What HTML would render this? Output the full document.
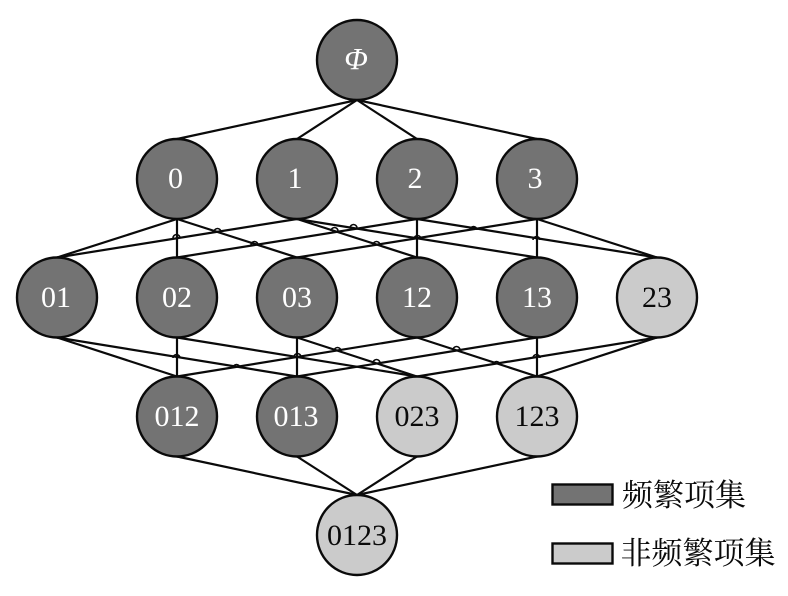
<!DOCTYPE html>
<html>
<head>
<meta charset="utf-8">
<style>
html,body{margin:0;padding:0;background:#fff;}
svg{display:block;}
text{font-family:"Liberation Serif","Noto Serif CJK SC",serif;text-anchor:middle;}
</style>
</head>
<body>
<svg width="788" height="596" viewBox="0 0 788 596" xmlns="http://www.w3.org/2000/svg">
<g stroke="#0a0a0a" stroke-width="2.2" fill="none">
<!-- root to level 1 -->
<line x1="357" y1="100" x2="177" y2="139"/>
<line x1="357" y1="100" x2="297" y2="139"/>
<line x1="357" y1="100" x2="417" y2="139"/>
<line x1="357" y1="100" x2="537" y2="139"/>
<!-- level 1 to level 2 -->
<line x1="177" y1="219" x2="57" y2="257.5"/>
<line x1="177" y1="219" x2="177" y2="257.5"/>
<line x1="177" y1="219" x2="297" y2="257.5"/>
<line x1="297" y1="219" x2="57" y2="257.5"/>
<line x1="297" y1="219" x2="417" y2="257.5"/>
<line x1="297" y1="219" x2="537" y2="257.5"/>
<line x1="417" y1="219" x2="177" y2="257.5"/>
<line x1="417" y1="219" x2="417" y2="257.5"/>
<line x1="417" y1="219" x2="657" y2="257.5"/>
<line x1="537" y1="219" x2="297" y2="257.5"/>
<line x1="537" y1="219" x2="537" y2="257.5"/>
<line x1="537" y1="219" x2="657" y2="257.5"/>
<!-- level 2 to level 3 -->
<line x1="57" y1="337.5" x2="177" y2="376.5"/>
<line x1="57" y1="337.5" x2="297" y2="376.5"/>
<line x1="177" y1="337.5" x2="177" y2="376.5"/>
<line x1="177" y1="337.5" x2="417" y2="376.5"/>
<line x1="297" y1="337.5" x2="297" y2="376.5"/>
<line x1="297" y1="337.5" x2="417" y2="376.5"/>
<line x1="417" y1="337.5" x2="177" y2="376.5"/>
<line x1="417" y1="337.5" x2="537" y2="376.5"/>
<line x1="537" y1="337.5" x2="297" y2="376.5"/>
<line x1="537" y1="337.5" x2="537" y2="376.5"/>
<line x1="657" y1="337.5" x2="417" y2="376.5"/>
<line x1="657" y1="337.5" x2="537" y2="376.5"/>
<!-- level 3 to bottom -->
<line x1="177" y1="456.5" x2="357" y2="495"/>
<line x1="297" y1="456.5" x2="357" y2="495"/>
<line x1="417" y1="456.5" x2="357" y2="495"/>
<line x1="537" y1="456.5" x2="357" y2="495"/>
</g>
<!-- crossing bumps -->
<g stroke="#0a0a0a" stroke-width="1.6" fill="none">
<path d="M173 238a3.5 3.5 0 0 1 7 0"/>
<path d="M214 232a3.5 3.5 0 0 1 7 0"/>
<path d="M251 245a3.5 3.5 0 0 1 7 0"/>
<path d="M331 231a3.5 3.5 0 0 1 7 0"/>
<path d="M350 228a3.5 3.5 0 0 1 7 0"/>
<path d="M373 245a3.5 3.5 0 0 1 7 0"/>
<path d="M414 239a3.5 3.5 0 0 1 7 0"/>
<path d="M470 230a3.5 3.5 0 0 1 7 0"/>
<path d="M533 240a3.5 3.5 0 0 1 7 0"/>
<path d="M173 358a3.5 3.5 0 0 1 7 0"/>
<path d="M233 368a3.5 3.5 0 0 1 7 0"/>
<path d="M294 357a3.5 3.5 0 0 1 7 0"/>
<path d="M334 351a3.5 3.5 0 0 1 7 0"/>
<path d="M373 363a3.5 3.5 0 0 1 7 0"/>
<path d="M453 350a3.5 3.5 0 0 1 7 0"/>
<path d="M493 365a3.5 3.5 0 0 1 7 0"/>
<path d="M533 358a3.5 3.5 0 0 1 7 0"/>
</g>
<!-- dark nodes -->
<g fill="#737373" stroke="#0a0a0a" stroke-width="2.4">
<circle cx="357" cy="60" r="40"/>
<circle cx="177" cy="179" r="40"/>
<circle cx="297" cy="179" r="40"/>
<circle cx="417" cy="179" r="40"/>
<circle cx="537" cy="179" r="40"/>
<circle cx="57" cy="297.5" r="40"/>
<circle cx="177" cy="297.5" r="40"/>
<circle cx="297" cy="297.5" r="40"/>
<circle cx="417" cy="297.5" r="40"/>
<circle cx="537" cy="297.5" r="40"/>
<circle cx="177" cy="416.5" r="40"/>
<circle cx="297" cy="416.5" r="40"/>
</g>
<!-- light nodes -->
<g fill="#cbcbcb" stroke="#0a0a0a" stroke-width="2.4">
<circle cx="657" cy="297.5" r="40"/>
<circle cx="417" cy="416.5" r="40"/>
<circle cx="537" cy="416.5" r="40"/>
<circle cx="357" cy="535" r="40"/>
</g>
<!-- dark node labels -->
<g fill="#ffffff" font-size="30">
<text x="356" y="69" font-style="italic" font-size="31">Φ</text>
<text x="175.500" y="188">0</text>
<text x="295" y="188">1</text>
<text x="415" y="188">2</text>
<text x="535" y="188">3</text>
<text x="56" y="307">01</text>
<text x="177" y="307">02</text>
<text x="297" y="307">03</text>
<text x="417" y="307">12</text>
<text x="537" y="307">13</text>
<text x="177" y="426">012</text>
<text x="296" y="426">013</text>
</g>
<!-- light node labels -->
<g fill="#0a0a0a" font-size="30">
<text x="657" y="307">23</text>
<text x="417" y="426">023</text>
<text x="537" y="426">123</text>
<text x="357" y="545">0123</text>
</g>
<!-- legend -->
<rect x="552.5" y="484.5" width="60" height="20" fill="#737373" stroke="#0a0a0a" stroke-width="2.4"/>
<rect x="552.5" y="543.5" width="60" height="20" fill="#cbcbcb" stroke="#0a0a0a" stroke-width="2.4"/>
<text x="684" y="506" font-size="31" fill="#0a0a0a">频繁项集</text>
<text x="698" y="564" font-size="31" fill="#0a0a0a">非频繁项集</text>
</svg>
</body>
</html>
